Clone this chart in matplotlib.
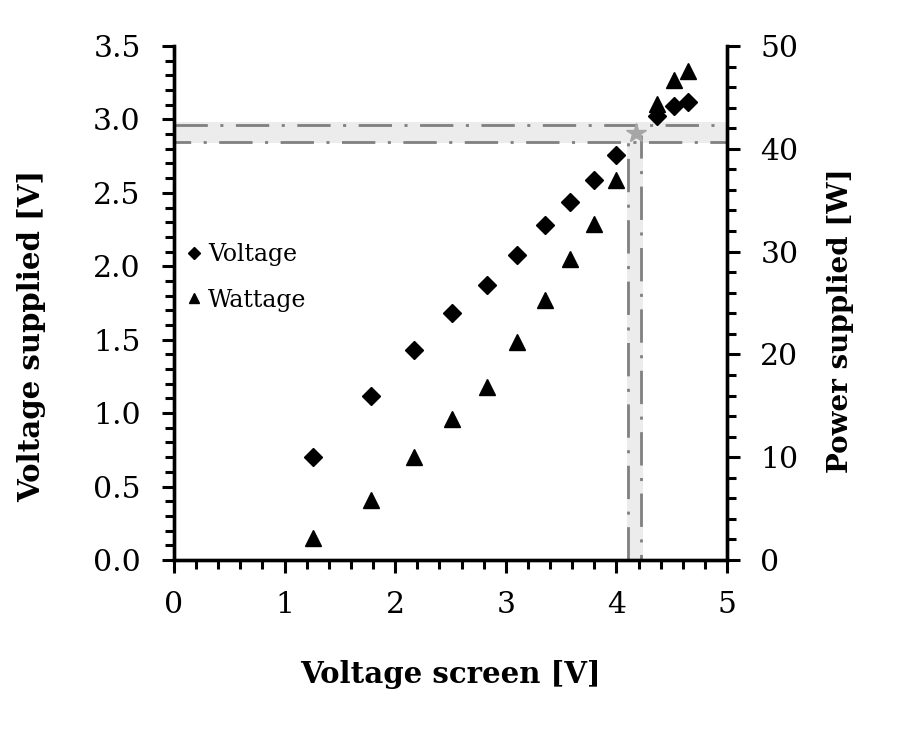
import matplotlib
matplotlib.use("Agg")
import matplotlib.pyplot as plt
from matplotlib.ticker import MultipleLocator, FormatStrFormatter
import numpy as np

plt.rcParams['font.family'] = ['DejaVu Serif']
plt.rcParams['lines.scale_dashes'] = False

# data
screen_v = [1.26, 1.78, 2.17, 2.51, 2.83, 3.10, 3.35, 3.58, 3.80, 4.00, 4.37, 4.52, 4.65]
voltage = [0.70, 1.12, 1.43, 1.68, 1.87, 2.08, 2.28, 2.44, 2.59, 2.76, 3.02, 3.09, 3.12]
wattage = [2.1, 5.8, 10.0, 13.7, 16.8, 21.2, 25.3, 29.3, 32.7, 37.0, 44.4, 46.7, 47.6]

# reference point and band
ref_x = [4.108, 4.22]
ref_y = [2.846, 2.961]
band_x = (4.093, 4.237)
band_y = (2.84, 2.982)
target = (4.18, 2.907)

fig = plt.figure(figsize=(9.02, 7.30), dpi=100)
ax = fig.add_axes([0.1929, 0.2329, 0.6131, 0.7041])
ax2 = ax.twinx()

grey = '#808080'
dash = (0, (24, 9, 2.2, 9))

ax.fill_between([0, 5], band_y[0], band_y[1], color='#ececec', lw=0, zorder=1)
ax.fill_between(band_x, 0, band_y[0], color='#ececec', lw=0, zorder=1)
ax.plot([0, 5], [ref_y[1], ref_y[1]], color=grey, lw=2, linestyle=dash, zorder=2)
ax.plot([0, 5], [ref_y[0], ref_y[0]], color=grey, lw=2, linestyle=(12, (24, 9, 2.2, 9)), zorder=2)
ax.plot([ref_x[0], ref_x[0]], [0, ref_y[0]], color=grey, lw=2, linestyle=dash, zorder=2)
ax.plot([ref_x[1], ref_x[1]], [0, 2.893], color=grey, lw=2, linestyle=(20, (24, 9, 2.2, 9)), zorder=2)
ax.plot([target[0]], [target[1]], marker='*', ms=15, color='#a6a6a6', zorder=3)

h1, = ax.plot(screen_v, voltage, 'D', color='black', ms=9.5, ls='none', label='Voltage', zorder=4)
h2, = ax2.plot(screen_v, wattage, '^', color='black', ms=11, ls='none', label='Wattage', zorder=4)

ax.set_xlim(0, 5)
ax.set_ylim(0, 3.5)
ax2.set_ylim(0, 50)

ax.xaxis.set_major_locator(MultipleLocator(1))
ax.xaxis.set_minor_locator(MultipleLocator(0.2))
ax.yaxis.set_major_locator(MultipleLocator(0.5))
ax.yaxis.set_minor_locator(MultipleLocator(0.1))
ax.yaxis.set_major_formatter(FormatStrFormatter('%.1f'))
ax2.yaxis.set_major_locator(MultipleLocator(10))
ax2.yaxis.set_minor_locator(MultipleLocator(2))

for a in (ax, ax2):
    for s in a.spines.values():
        s.set_linewidth(2.4)
    a.tick_params(which='major', direction='out', length=9, width=2.2, labelsize=21.5, pad=15)
    a.tick_params(which='minor', direction='out', length=6.5, width=2.2)
ax.spines['top'].set_visible(False)
ax2.spines['top'].set_visible(False)
ax.tick_params(axis='x', pad=13)

ax.set_xlabel('Voltage screen [V]', fontsize=21, fontweight='bold')
ax.set_ylabel('Voltage supplied [V]', fontsize=21, fontweight='bold')
ax2.set_ylabel('Power supplied [W]', fontsize=20, fontweight='bold')
ax.xaxis.set_label_coords(0.499, -0.195)
ax.yaxis.set_label_coords(-0.232, 0.436)
ax2.yaxis.set_label_coords(1.18, 0.465)

ax.legend(handles=[h1, h2], loc='center left', bbox_to_anchor=(-0.02, 0.55),
          frameon=False, fontsize=17, markerscale=0.6, handlelength=0.8,
          handletextpad=0.2, labelspacing=0.95)

fig.savefig('out.png', dpi=100)
